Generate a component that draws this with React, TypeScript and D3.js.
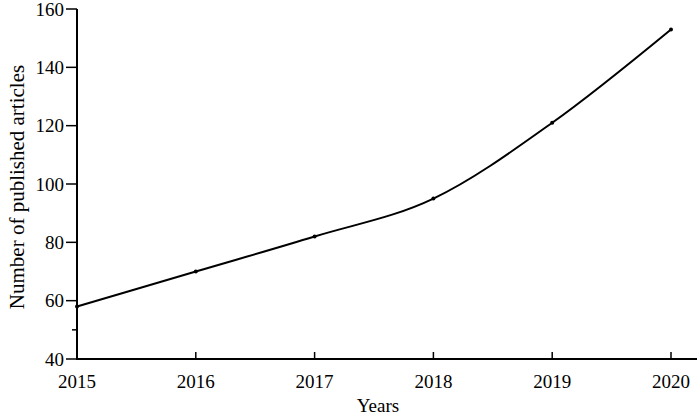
import React from "react";
import * as d3 from "d3";

const years = [2015, 2016, 2017, 2018, 2019, 2020];
const articles = [58, 70, 82, 95, 121, 153];
const yTicks = [40, 60, 80, 100, 120, 140, 160];
const yMinorTicks = [50];

export default function App() {
  const W = 700, H = 418;
  const x = d3.scaleLinear().domain([2015, 2020]).range([77, 671]);
  const y = d3.scaleLinear().domain([40, 160]).range([359, 9]);
  const line = d3
    .line<number>()
    .x((_, i) => x(years[i]))
    .y((d) => y(d))
    .curve(d3.curveMonotoneX);
  const font = "'Liberation Serif', 'Times New Roman', serif";
  return (
    <svg
      width={W}
      height={H}
      style={{ position: "absolute", left: 0, top: 0, background: "#fff" }}
      fontFamily={font}
    >
      <line x1={77} x2={77} y1={y(160)} y2={y(40)} stroke="#000" strokeWidth={2} />
      <line x1={76} x2={697} y1={y(40)} y2={y(40)} stroke="#000" strokeWidth={2} />
      {yTicks.map((t) => (
        <g key={t}>
          <line x1={66} x2={77} y1={y(t)} y2={y(t)} stroke="#000" strokeWidth={1.5} />
          <text x={64} y={y(t)} dy="0.35em" textAnchor="end" fontSize={19}>
            {t}
          </text>
        </g>
      ))}
      {yMinorTicks.map((t) => (
        <line key={t} x1={72} x2={77} y1={y(t)} y2={y(t)} stroke="#000" strokeWidth={1.5} />
      ))}
      {years.map((yr) => (
        <g key={yr}>
          {yr !== 2015 && (
            <line x1={x(yr)} x2={x(yr)} y1={y(40)} y2={y(40) - 7} stroke="#000" strokeWidth={1.5} />
          )}
          <text x={x(yr)} y={388} textAnchor="middle" fontSize={19}>
            {yr}
          </text>
        </g>
      ))}
      <text x={378} y={412} textAnchor="middle" fontSize={19}>
        Years
      </text>
      <text
        transform={`translate(24, 187) rotate(-90)`}
        textAnchor="middle"
        fontSize={21}
      >
        Number of published articles
      </text>
      <path d={line(articles) || ""} fill="none" stroke="#000" strokeWidth={2} />
      {articles.map((v, i) => (
        <circle key={i} cx={x(years[i])} cy={y(v)} r={2} fill="#000" />
      ))}
    </svg>
  );
}
